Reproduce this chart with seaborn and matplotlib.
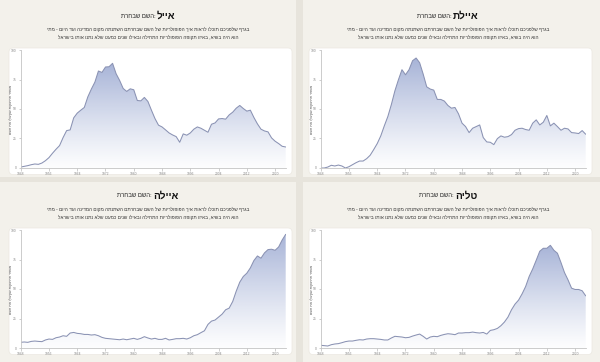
import numpy as np
import pandas as pd
import matplotlib
matplotlib.use("Agg")
import matplotlib.pyplot as plt
from matplotlib.patches import FancyBboxPatch, PathPatch, Rectangle
import seaborn as sns

# ---------------- data ----------------
years = list(range(1948, 2024))

eyal = [0.8, 1.4, 2.0, 2.8, 3.4, 3.1, 4.2, 6.2, 8.8, 12.5, 15.9, 19.0, 25.8, 31.7, 32.3, 42.5,
        46.5, 49.0, 51.3, 60.3, 66.9, 72.8, 82.2, 81.0, 85.6, 85.8, 88.7, 79.9, 74.2, 67.4, 64.9,
        67.1, 66.3, 57.2, 56.9, 59.8, 56.4, 49.0, 41.9, 36.3, 34.8, 32.3, 29.7, 28.0, 26.6, 21.8,
        28.9, 27.8, 29.7, 32.9, 34.8, 33.7, 32.0, 30.3, 37.1, 38.2, 41.6, 41.9, 41.4, 45.0, 47.3,
        50.7, 53.0, 50.4, 48.2, 49.0, 42.8, 37.4, 32.9, 31.4, 30.6, 25.5, 22.7, 20.7, 18.4, 17.8]

ayelet = [0.0, 0.0, 0.8, 2.3, 1.7, 2.5, 1.7, 0.0, 1.1, 2.8, 4.5, 5.9, 5.9, 7.9, 10.8, 15.6,
          20.7, 27.2, 35.7, 43.6, 53.8, 65.4, 74.8, 83.3, 79.0, 83.3, 90.9, 93.2, 89.2, 79.6, 68.8,
          66.9, 66.0, 58.1, 58.1, 56.7, 53.0, 50.7, 51.3, 45.9, 38.0, 35.1, 30.0, 33.7, 35.1, 36.5,
          25.8, 22.1, 21.8, 19.8, 24.9, 27.2, 26.1, 26.6, 28.3, 32.0, 33.4, 33.7, 32.6, 32.0, 38.0,
          40.8, 36.5, 38.8, 44.5, 35.7, 38.0, 35.1, 32.0, 33.7, 33.1, 30.0, 29.7, 29.2, 31.7, 28.6]

ayala = [4.8, 5.1, 4.8, 5.6, 5.9, 5.6, 5.4, 6.8, 7.6, 7.3, 8.7, 9.3, 10.4, 9.9, 12.7, 13.2,
         12.4, 12.1, 11.5, 11.5, 11.0, 11.3, 10.4, 9.0, 8.2, 7.9, 7.6, 7.3, 7.0, 7.6, 7.0,
         7.6, 8.2, 7.3, 8.2, 9.6, 8.5, 7.6, 8.2, 7.3, 7.3, 8.2, 6.8, 7.3, 7.9, 7.9,
         8.2, 7.6, 8.7, 10.4, 11.3, 13.0, 14.6, 20.0, 22.8, 23.7, 26.2, 28.7, 32.4, 33.8, 39.4,
         48.2, 55.8, 60.6, 63.4, 67.9, 74.1, 78.0, 76.1, 80.6, 83.4, 83.7, 82.8, 85.6, 91.5, 96.3]

talya = [2.3, 2.0, 1.7, 2.8, 3.4, 3.7, 4.5, 5.4, 5.9, 5.9, 6.5, 7.0, 6.8, 7.6, 7.9, 7.9,
         7.6, 7.3, 6.8, 6.8, 8.5, 9.9, 9.6, 9.3, 8.7, 9.0, 10.1, 11.0, 11.8, 9.9, 7.6,
         9.3, 9.9, 9.6, 10.7, 11.5, 12.1, 11.8, 11.3, 12.7, 12.7, 13.0, 13.0, 13.5, 13.0, 12.7,
         13.2, 11.8, 14.9, 15.5, 16.6, 18.9, 22.0, 26.2, 32.4, 37.2, 40.6, 45.9, 52.1, 60.6, 67.0,
         74.4, 82.0, 84.5, 84.5, 87.0, 82.8, 80.3, 72.4, 63.9, 57.7, 50.7, 49.6, 49.6, 48.5, 44.2]

names = ["אייל", "איילת", "איילה", "טליה"]
series = [eyal, ayelet, ayala, talya]
title_prefix = "השם שבחרת"
subtitle_1 = "בגרף שלפניכם תוכלו לראות איך הפופולריות של השם שבחרתם השתנתה מקום המדינה ועד היום - מתי"
subtitle_2 = "הוא היה בשיא, באיזו תקופה הפופולריות התחילה ובאילו שנים כמעט שלא נתנו אותו בישראל"
y_label = "מספר התינוקות שקיבלו את השם"
x_ticks = list(range(1948, 2024, 8))
y_ticks = [0, 25, 50, 75, 100]

# ---------------- style ----------------
sns.set_theme(style="white")
plt.rcParams['font.family'] = ['Liberation Sans', 'DejaVu Sans']

W, H = 600, 362
fig = plt.figure(figsize=(W / 100, H / 100), dpi=100)
fig.patch.set_facecolor("#e7e4dc")


def rtl(s):
    return s[::-1]


def px_rect(x0, y0, x1, y1):
    # pixel box (top-left origin) -> display coords rect
    return x0, H - y1, x1 - x0, y1 - y0


line_color = "#8a92b3"
fill_rgb = np.array([0.56, 0.62, 0.80])
grad = np.zeros((256, 1, 4))
tvals = np.linspace(0, 1, 256)
grad[:, 0, :3] = fill_rgb
grad[:, 0, 3] = 0.02 + 0.76 * tvals ** 1.15

offsets = [(0, 0), (300, 0), (0, 180), (300, 180)]
card_boxes = [(0, 0, 296, 177), (303, 0, 600, 177), (0, 182, 296, 362), (303, 182, 600, 362)]

for cb in card_boxes:
    x, y, w, h = px_rect(*cb)
    fig.add_artist(Rectangle((x, y), w, h, transform=None, facecolor="#f3f1eb",
                             edgecolor="none", zorder=-3))

for k, (ox, oy) in enumerate(offsets):
    # white chart card
    x, y, w, h = px_rect(ox + 9, oy + 48, ox + 292, oy + 174.5)
    fig.add_artist(FancyBboxPatch((x, y), w, h, boxstyle="round,pad=0,rounding_size=4",
                                  transform=None, facecolor="white", edgecolor="#ebe8e1",
                                  linewidth=0.5, zorder=-2))

    # titles
    cx = (ox + 148) / W
    ty = 1 - (oy + 16) / H
    t1 = fig.text(0, ty, rtl(title_prefix) + ":", fontsize=4.3, color="#222", ha="left", va="center")
    t2 = fig.text(0, ty, rtl(names[k]), fontsize=7.2, fontweight="bold", color="#111",
                  ha="left", va="center")
    fig.canvas.draw()
    r = fig.canvas.get_renderer()
    w1 = t1.get_window_extent(r).width / W
    w2 = t2.get_window_extent(r).width / W
    gap = 1.5 / W
    start = cx - (w1 + gap + w2) / 2
    t1.set_x(start)
    t2.set_x(start + w1 + gap)

    fig.text(cx, 1 - (oy + 29) / H, rtl(subtitle_1), fontsize=3.45, color="#333",
             ha="center", va="center")
    fig.text(cx, 1 - (oy + 37) / H, rtl(subtitle_2), fontsize=3.45, color="#333",
             ha="center", va="center")

    # chart axes
    left, top, right, bottom = ox + 20.7, oy + 50, ox + 285.7, oy + 168
    ax = fig.add_axes([left / W, 1 - bottom / H, (right - left) / W, (bottom - top) / H])
    ax.set_facecolor("none")
    vals = series[k]
    df = pd.DataFrame({"year": years, "value": vals})

    fill = ax.fill_between(df["year"], df["value"], 0, facecolor="none", edgecolor="none")
    clip = PathPatch(fill.get_paths()[0], transform=ax.transData, facecolor="none", edgecolor="none")
    ax.add_patch(clip)
    im = ax.imshow(grad, extent=[years[0], years[-1], 0, max(vals)], aspect="auto",
                   origin="lower", zorder=1, interpolation="bilinear")
    im.set_clip_path(clip)
    sns.lineplot(data=df, x="year", y="value", ax=ax, color=line_color, linewidth=0.75, zorder=2)

    ax.set_xlim(years[0], years[-1])
    ax.set_ylim(0, 100)
    ax.set_xticks(x_ticks)
    ax.set_xticklabels([str(v) for v in x_ticks])
    ax.set_yticks(y_ticks)
    ax.set_yticklabels([str(v) for v in y_ticks])
    ax.tick_params(axis="both", length=1.8, width=0.4, color="#aaaaaa", labelsize=2.4,
                   labelcolor="#888888", pad=1.2, bottom=True, left=True)
    for s in ["top", "right"]:
        ax.spines[s].set_visible(False)
    for s in ["left", "bottom"]:
        ax.spines[s].set_color("#c4c4c4")
        ax.spines[s].set_linewidth(0.6)
    ax.set_xlabel("")
    ax.set_ylabel("")
    ax.grid(False)

    fig.text((ox + 11.5) / W, 1 - (oy + 109) / H, rtl(y_label), fontsize=2.6, color="#555",
             rotation=90, ha="center", va="center")

fig.savefig("out.png", dpi=100, facecolor=fig.get_facecolor())
